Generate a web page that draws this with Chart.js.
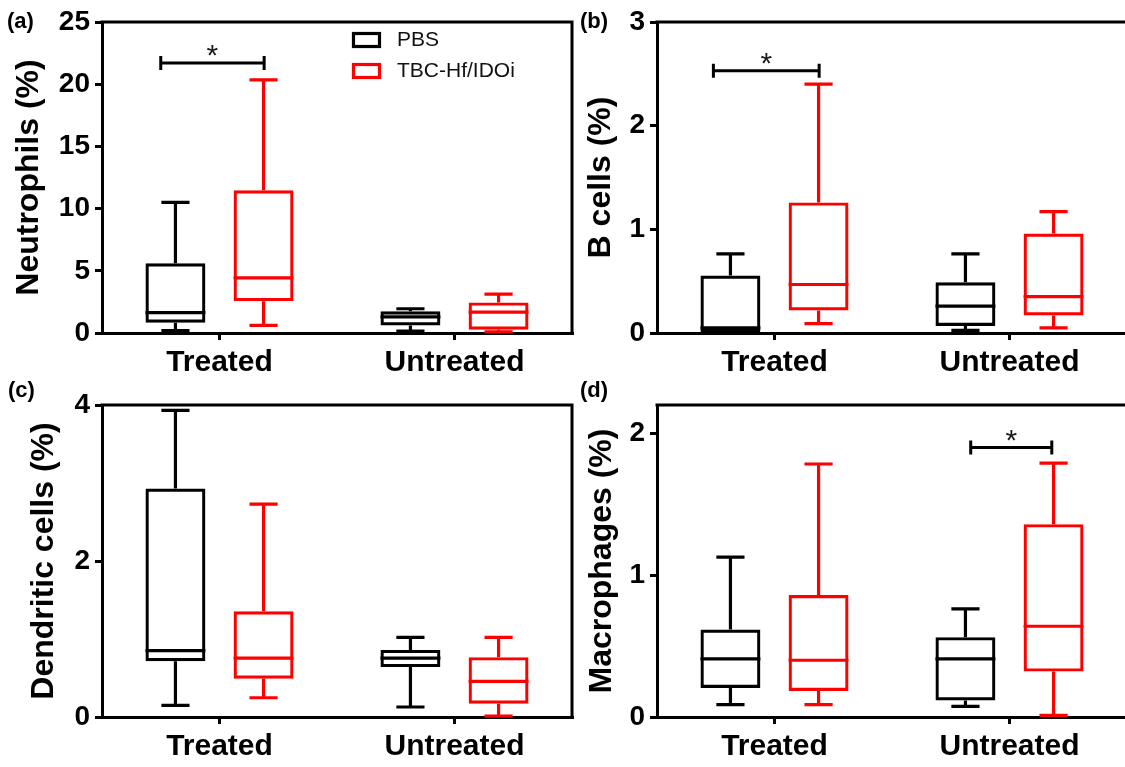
<!DOCTYPE html>
<html><head><meta charset="utf-8">
<script src="https://cdn.jsdelivr.net/npm/chart.js@4.4.1/dist/chart.umd.min.js"></script>
<style>
html,body{margin:0;padding:0;background:#fff;overflow:hidden;width:1125px;height:767px;position:relative;}
canvas{position:absolute;}
.lbl{position:absolute;font:bold 22px "Liberation Sans",Arial,sans-serif;line-height:22px;color:#000;}
</style></head><body>
<canvas id="ca" width="580" height="383" style="left:0;top:0"></canvas>
<canvas id="cb" width="560" height="383" style="left:580px;top:0"></canvas>
<canvas id="cc" width="580" height="384" style="left:0;top:383px"></canvas>
<canvas id="cd" width="560" height="384" style="left:580px;top:383px"></canvas>
<div class="lbl" style="left:7px;top:10px">(a)</div>
<div class="lbl" style="left:580px;top:10px">(b)</div>
<div class="lbl" style="left:8px;top:379px">(c)</div>
<div class="lbl" style="left:580px;top:379px">(d)</div>
<script>
const categories = ['Treated', 'Untreated'];
const seriesNames = ['PBS', 'TBC-Hf/IDOi'];

// five-number summaries per category: [min, Q1, median, Q3, max]
const neutrophilsPBS = [[0.2, 0.83, 1.63, 5.6, 10.5], [0.16, 0.6, 1.3, 1.75, 1.95]];
const neutrophilsTBC = [[0.61, 2.56, 4.43, 11.48, 20.35], [0.1, 0.27, 1.68, 2.46, 3.12]];
const bCellsPBS = [[0, 0.01, 0.05, 0.555, 0.763], [0.026, 0.067, 0.26, 0.49, 0.763]];
const bCellsTBC = [[0.09, 0.218, 0.468, 1.26, 2.40], [0.05, 0.17, 0.35, 0.96, 1.17]];
const dendriticPBS = [[0.15, 0.716, 0.85, 2.93, 3.93], [0.128, 0.64, 0.754, 0.86, 1.02]];
const dendriticTBC = [[0.247, 0.49, 0.754, 1.355, 2.73], [0.01, 0.17, 0.456, 0.767, 1.02]];
const macrophagesPBS = [[0.087, 0.204, 0.41, 0.617, 1.127], [0.075, 0.117, 0.41, 0.563, 0.763]];
const macrophagesTBC = [[0.087, 0.183, 0.40, 0.86, 1.784], [0.012, 0.32, 0.64, 1.36, 1.79]];

// y-axis tick labels and ranges
const neutrophilsTicks = [0, 5, 10, 15, 20, 25];
const bCellsTicks = [0, 1, 2, 3];
const dendriticTicks = [0, 2, 4];
const macrophagesTicks = [0, 1, 2];
const neutrophilsMax = 25, bCellsMax = 3, dendriticMax = 4, macrophagesMax = 2.2;

// significance brackets: [start, end] in category-index units, y in data units
const neutrophilsSig = [[-0.25, 0.19, 21.7]];
const bCellsSig = [[-0.26, 0.19, 2.53]];
const dendriticSig = [];
const macrophagesSig = [[0.835, 1.18, 1.9]];
const sigMark = '*';

const FONT = '"Liberation Sans", Arial, sans-serif';
const seriesColors = ['#000000', '#ff0000'];

function makeChart(id, cfg) {
  const boxPlugin = {
    id: 'boxWhisker',
    afterDatasetsDraw(chart) {
      const ctx = chart.ctx, ys = chart.scales.y;
      chart.data.datasets.forEach((ds, i) => {
        const meta = chart.getDatasetMeta(i);
        ctx.save();
        ctx.strokeStyle = ds.borderColor;
        ctx.lineWidth = 3.2;
        ctx.lineCap = 'butt';
        meta.data.forEach((bar, j) => {
          const s = ds.summary[j];
          const p = bar.getProps(['x', 'width'], true);
          const x = p.x, w = p.width, cap = w * 0.47;
          const yMin = ys.getPixelForValue(s[0]);
          const yQ1 = ys.getPixelForValue(s[1]);
          const yMed = ys.getPixelForValue(s[2]);
          const yQ3 = ys.getPixelForValue(s[3]);
          const yMax = ys.getPixelForValue(s[4]);
          ctx.beginPath();
          ctx.moveTo(x - w / 2, yMed); ctx.lineTo(x + w / 2, yMed);
          ctx.moveTo(x, yQ3); ctx.lineTo(x, yMax);
          ctx.moveTo(x - cap / 2, yMax); ctx.lineTo(x + cap / 2, yMax);
          ctx.moveTo(x, yQ1); ctx.lineTo(x, yMin);
          ctx.moveTo(x - cap / 2, yMin); ctx.lineTo(x + cap / 2, yMin);
          ctx.stroke();
        });
        ctx.restore();
      });
    }
  };
  const framePlugin = {
    id: 'frame',
    afterDraw(chart) {
      const ctx = chart.ctx, a = chart.chartArea;
      ctx.save();
      ctx.strokeStyle = '#000';
      ctx.lineWidth = 3;
      ctx.beginPath();
      ctx.moveTo(a.left - 1.5, a.top); ctx.lineTo(a.right, a.top); ctx.lineTo(a.right, a.bottom + 1.5);
      ctx.stroke();
      ctx.restore();
    }
  };
  const sigPlugin = {
    id: 'sig',
    afterDraw(chart) {
      const ctx = chart.ctx, xs = chart.scales.x, ys = chart.scales.y;
      const p0 = xs.getPixelForValue(0), p1 = xs.getPixelForValue(1);
      const px = v => p0 + v * (p1 - p0);
      ctx.save();
      ctx.strokeStyle = '#000';
      ctx.fillStyle = '#1a1a1a';
      ctx.lineWidth = 3;
      cfg.sig.forEach(s => {
        const x1 = px(s[0]), x2 = px(s[1]), y = ys.getPixelForValue(s[2]);
        ctx.beginPath();
        ctx.moveTo(x1, y); ctx.lineTo(x2, y);
        ctx.moveTo(x1, y - 7); ctx.lineTo(x1, y + 7);
        ctx.moveTo(x2, y - 7); ctx.lineTo(x2, y + 7);
        ctx.stroke();
        ctx.font = '30px ' + FONT;
        ctx.textAlign = 'center';
        ctx.textBaseline = 'alphabetic';
        ctx.fillText(sigMark, (x1 + x2) / 2, y + 2);
      });
      ctx.restore();
    }
  };
  const legendPlugin = {
    id: 'insideLegend',
    afterDraw(chart) {
      if (!cfg.legend) return;
      const ctx = chart.ctx;
      ctx.save();
      ctx.lineWidth = 3.2;
      ctx.font = '21px ' + FONT;
      ctx.textAlign = 'left';
      ctx.textBaseline = 'middle';
      chart.data.datasets.forEach((ds, i) => {
        const top = cfg.legend.y + i * 31;
        ctx.strokeStyle = ds.borderColor;
        ctx.strokeRect(cfg.legend.x + 1.5, top + 1.5, 26, 13);
        ctx.fillStyle = '#111';
        ctx.fillText(ds.label, cfg.legend.x + 45, top + 8);
      });
      ctx.restore();
    }
  };
  return new Chart(document.getElementById(id), {
    type: 'bar',
    data: {
      labels: categories,
      datasets: [cfg.pbs, cfg.tbc].map((summ, k) => ({
        label: seriesNames[k],
        data: summ.map(s => [s[1], s[3]]),
        summary: summ,
        backgroundColor: 'rgba(0,0,0,0)',
        borderColor: seriesColors[k],
        borderWidth: 3.2,
        borderSkipped: false,
        categoryPercentage: 0.75,
        barPercentage: 0.68
      }))
    },
    options: {
      responsive: false,
      animation: false,
      events: [],
      layout: { padding: { left: 0, top: cfg.padTop, right: cfg.padRight, bottom: 0 } },
      plugins: { legend: { display: false }, tooltip: { enabled: false } },
      scales: {
        x: {
          type: 'category',
          offset: true,
          grid: { offset: false, drawOnChartArea: false, color: '#000', lineWidth: 3, tickLength: 7 },
          border: { color: '#000', width: 3 },
          ticks: { color: '#000', font: { family: FONT, size: 30, weight: 'bold' }, padding: 5, maxRotation: 0, autoSkip: false },
          afterFit: s => { s.height = cfg.xHeight; }
        },
        y: {
          type: 'linear',
          min: 0,
          max: cfg.max,
          grid: { drawOnChartArea: false, color: '#000', lineWidth: 3, tickLength: 7 },
          border: { color: '#000', width: 3 },
          ticks: { color: '#000', font: { family: FONT, size: 28, weight: 'bold' }, padding: 5 },
          afterBuildTicks: s => { s.ticks = cfg.ticks.map(v => ({ value: v })); },
          afterFit: s => { s.width = cfg.yWidth; },
          title: { display: true, text: cfg.title, color: '#000', font: { family: FONT, size: 32, weight: 'bold' }, padding: { top: cfg.titlePad, bottom: 0 } }
        }
      }
    },
    plugins: [boxPlugin, sigPlugin, framePlugin, legendPlugin]
  });
}

makeChart('ca', { pbs: neutrophilsPBS, tbc: neutrophilsTBC, ticks: neutrophilsTicks, max: neutrophilsMax, sig: neutrophilsSig,
  title: 'Neutrophils (%)', titlePad: 10, yWidth: 102, xHeight: 50, padTop: 22, padRight: 8, legend: { x: 352, y: 32 } });
makeChart('cb', { pbs: bCellsPBS, tbc: bCellsTBC, ticks: bCellsTicks, max: bCellsMax, sig: bCellsSig,
  title: 'B cells (%)', titlePad: 2, yWidth: 77, xHeight: 50, padTop: 22, padRight: 13 });
makeChart('cc', { pbs: dendriticPBS, tbc: dendriticTBC, ticks: dendriticTicks, max: dendriticMax, sig: dendriticSig,
  title: 'Dendritic cells (%)', titlePad: 25, yWidth: 102, xHeight: 50, padTop: 22, padRight: 8 });
makeChart('cd', { pbs: macrophagesPBS, tbc: macrophagesTBC, ticks: macrophagesTicks, max: macrophagesMax, sig: macrophagesSig,
  title: 'Macrophages (%)', titlePad: 3, yWidth: 77, xHeight: 50, padTop: 22, padRight: 13 });
</script>
</body></html>
